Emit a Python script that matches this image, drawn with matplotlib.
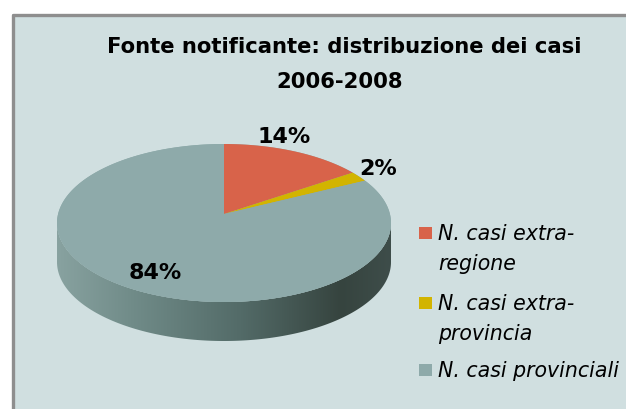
import numpy as np
import matplotlib.pyplot as plt
from matplotlib.patches import Polygon, Rectangle
from matplotlib.colors import LinearSegmentedColormap

# data
labels = ['N. casi extra-\nregione', 'N. casi extra-\nprovincia', 'N. casi provinciali']
values = [14, 2, 84]
colors = ['#d8634a', '#d2b400', '#8eaaaa']

W, H = 626, 410
fig = plt.figure(figsize=(W / 100, H / 100), dpi=100)
ax = fig.add_axes([0, 0, 1, 1])
ax.set_xlim(0, W)
ax.set_ylim(H, 0)
ax.axis('off')

# panel with grey border on left/top
ax.add_patch(Rectangle((12, 15), W, H, facecolor='#d0dfe0', edgecolor='none', zorder=0))
ax.plot([12.5, 12.5, W], [H, 15.5, 15.5], color='#8e8e8e', lw=2.4, solid_capstyle='butt', zorder=1)

# title
ax.text(344, 53, 'Fonte notificante: distribuzione dei casi', ha='center', va='baseline',
        fontsize=15.2, fontweight='bold', family=['DejaVu Sans'])
ax.text(340, 88, '2006-2008', ha='center', va='baseline',
        fontsize=15.2, fontweight='bold', family=['DejaVu Sans'])

# pie geometry (pixels); apex sits a bit above the ellipse centre (perspective)
cx, cy, rx, ry, depth = 224, 224, 167, 79, 39
apex = (224, 215)


def arc(t0, t1, n=200, dy=0):
    t = np.radians(np.linspace(t0, t1, n))
    return np.column_stack([cx + rx * np.cos(t), cy + dy - ry * np.sin(t)])


# side face with horizontal gradient
front = arc(180, 360)
side = np.vstack([front, arc(360, 180, dy=depth)])
side_patch = Polygon(side, closed=True, facecolor='none', edgecolor='none', zorder=2)
ax.add_patch(side_patch)
cmap = LinearSegmentedColormap.from_list('side', [(0, '#88a2a0'), (0.25, '#6e8986'),
                                                  (0.55, '#536b68'), (0.85, '#36443f'),
                                                  (1, '#3e4d4a')])
grad = np.linspace(0, 1, 256)[None, :]
im = ax.imshow(grad, cmap=cmap, extent=(cx - rx, cx + rx, cy + ry + depth + 2, cy - 2),
               aspect='auto', zorder=2, interpolation='bilinear')
im.set_clip_path(side_patch)
ax.set_xlim(0, W)
ax.set_ylim(H, 0)

# top face: full ellipse in base colour, then wedges from 12 o'clock, clockwise
ax.add_patch(Polygon(arc(0, 360, 400), closed=True, facecolor=colors[-1],
                     edgecolor='none', zorder=3))
start = 90.0
total = float(sum(values))
for v, c in zip(values, colors):
    end = start - 360.0 * v / total
    pts = np.vstack([apex, arc(start, end, 300)])
    ax.add_patch(Polygon(pts, closed=True, facecolor=c, edgecolor='none', zorder=3))
    start = end

# percentage labels
label_pos = [(284, 143), (378, 175), (155, 279)]
for v, (x, y) in zip(values, label_pos):
    ax.text(x, y, f'{v}%', ha='center', va='baseline', fontsize=16, fontweight='bold',
            family=['DejaVu Sans'], zorder=5)

# legend
leg_base = [240, 310, 377]
for lab, c, yb in zip(labels, colors, leg_base):
    ax.add_patch(Rectangle((419, yb - 12), 13, 12, facecolor=c, edgecolor='none', zorder=4))
    for i, line in enumerate(lab.split('\n')):
        ax.text(438, yb + 30 * i, line, ha='left', va='baseline', fontsize=14.8,
                style='italic', family=['DejaVu Sans'], zorder=5)

fig.savefig('out.png', dpi=100)
